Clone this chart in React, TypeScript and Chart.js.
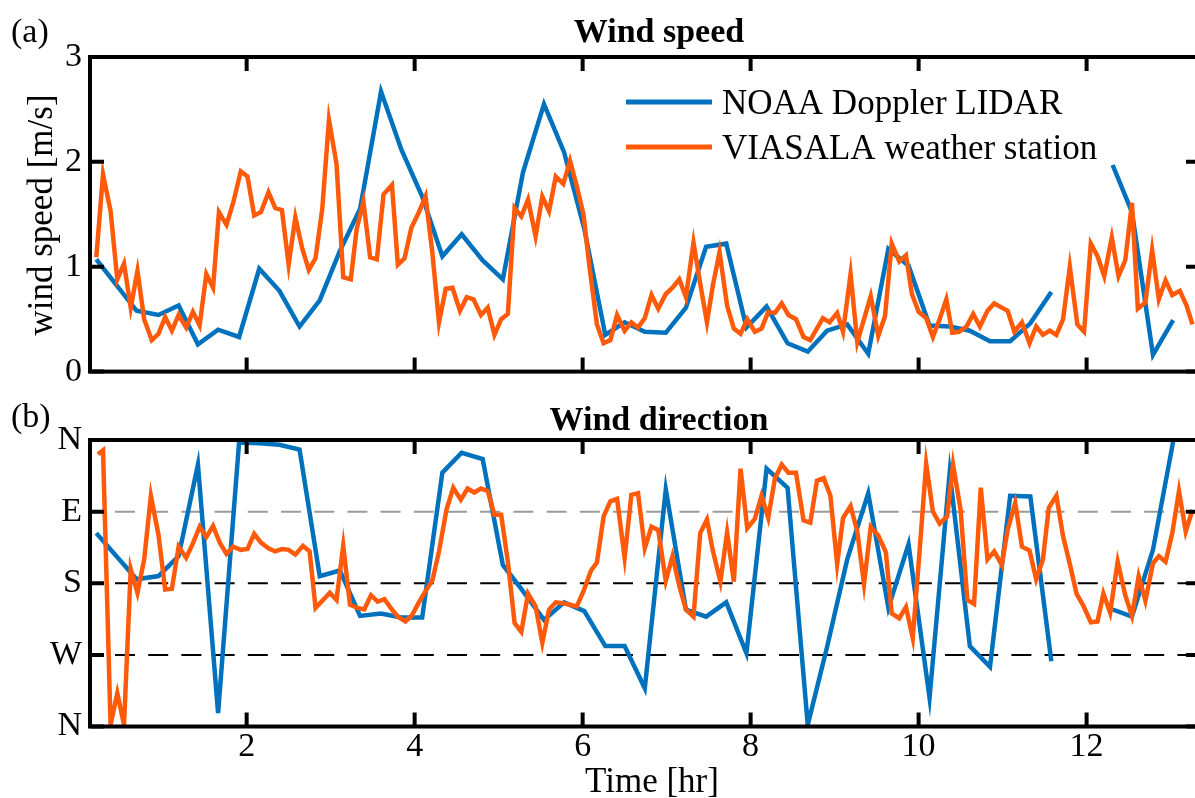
import React, { useEffect, useRef } from 'react';
import { Chart, registerables } from 'chart.js';

Chart.register(...registerables);

const SERIF = "'Liberation Serif', 'Times New Roman', serif";
const BLUE = '#0072BD';
const ORANGE = '#FF5A0A';

// ---------- axis ranges & tick labels ----------
const timeMin = 0.135;
const timeMax = 13.35;
const timeTicks = [2, 4, 6, 8, 10, 12];
const speedTicks = [0, 1, 2, 3];
const dirTickValues = [0, 90, 180, 270, 360];
const dirTickLabels = ['N', 'W', 'S', 'E', 'N'];
const dirRefLines = [90, 180, 270];
const seriesLabels = ['NOAA Doppler LIDAR', 'VIASALA weather station'];

// ---------- NOAA Doppler LIDAR (time in hr) ----------
const lidarTime = [0.21, 0.69, 0.95, 1.19, 1.42, 1.66, 1.91, 2.15, 2.39, 2.63, 2.87, 3.11, 3.35, 3.6, 3.84, 4.09, 4.33, 4.56, 4.81, 5.05, 5.29, 5.54, 5.78, 6.02, 6.27, 6.5, 6.74, 6.99, 7.23, 7.47, 7.71, 7.95, 8.19, 8.44, 8.68, 8.91, 9.15, 9.4, 9.64, 9.88, 10.13, 10.37, 10.61, 10.85, 11.09, 11.33, 11.58, 11.82, 12.31, 12.54, 12.79, 13.03];
const lidarSpeed = [1.07, 0.58, 0.54, 0.63, 0.26, 0.4, 0.33, 0.98, 0.77, 0.43, 0.68, 1.15, 1.55, 2.67, 2.12, 1.67, 1.1, 1.31, 1.06, 0.88, 1.9, 2.55, 2.09, 1.36, 0.35, 0.47, 0.38, 0.37, 0.61, 1.19, 1.22, 0.42, 0.62, 0.27, 0.19, 0.39, 0.45, 0.17, 1.17, 1.01, 0.44, 0.43, 0.39, 0.29, 0.29, 0.46, 0.76, null, 1.97, 1.52, 0.16, 0.49];
const lidarDir = [243, 185, 189, 214, 329, 17, 357, 356, 354, 348, 189, 196, 139, 142, 137, 137, 319, 344, 336, 203, 170, 134, 156, 145, 101, 101, 48, 298, 147, 138, 156, 92, 324, 300, 2, 100, 210, 293, 149, 229, 36, 319, 101, 75, 290, 289, 82, null, 147, 138, 222, 358];

// ---------- VIASALA weather station ----------
const stationSpeedTime = [0.21, 0.29, 0.38, 0.46, 0.54, 0.62, 0.7, 0.78, 0.87, 0.95, 1.03, 1.11, 1.19, 1.28, 1.36, 1.44, 1.52, 1.6, 1.67, 1.76, 1.84, 1.93, 2.01, 2.09, 2.17, 2.26, 2.34, 2.42, 2.5, 2.58, 2.66, 2.74, 2.82, 2.9, 2.98, 3.07, 3.15, 3.24, 3.31, 3.39, 3.47, 3.55, 3.63, 3.73, 3.8, 3.88, 3.96, 4.05, 4.13, 4.21, 4.29, 4.37, 4.45, 4.54, 4.62, 4.7, 4.79, 4.87, 4.95, 5.03, 5.11, 5.19, 5.27, 5.35, 5.44, 5.52, 5.6, 5.68, 5.77, 5.85, 5.93, 6.01, 6.08, 6.17, 6.25, 6.33, 6.41, 6.5, 6.58, 6.66, 6.74, 6.82, 6.9, 6.99, 7.07, 7.15, 7.23, 7.32, 7.4, 7.48, 7.55, 7.63, 7.72, 7.8, 7.88, 7.96, 8.05, 8.13, 8.21, 8.29, 8.37, 8.45, 8.54, 8.63, 8.71, 8.86, 8.94, 9.03, 9.1, 9.19, 9.27, 9.35, 9.43, 9.52, 9.6, 9.68, 9.77, 9.85, 9.92, 10.0, 10.09, 10.17, 10.25, 10.33, 10.4, 10.48, 10.57, 10.65, 10.73, 10.82, 10.9, 10.99, 11.06, 11.14, 11.23, 11.32, 11.4, 11.48, 11.56, 11.64, 11.72, 11.8, 11.89, 11.97, 12.05, 12.13, 12.21, 12.3, 12.38, 12.46, 12.54, 12.61, 12.7, 12.78, 12.86, 12.94, 13.02, 13.11, 13.19, 13.26];
const stationSpeed = [1.09, 1.88, 1.53, 0.88, 1.03, 0.61, 0.96, 0.5, 0.3, 0.36, 0.52, 0.39, 0.54, 0.42, 0.57, 0.44, 0.93, 0.8, 1.52, 1.4, 1.61, 1.91, 1.86, 1.49, 1.52, 1.71, 1.56, 1.54, 1.02, 1.47, 1.18, 0.97, 1.08, 1.55, 2.4, 1.98, 0.9, 0.88, 1.36, 1.62, 1.09, 1.07, 1.69, 1.78, 1.02, 1.08, 1.37, 1.52, 1.67, 1.14, 0.47, 0.79, 0.8, 0.58, 0.71, 0.69, 0.54, 0.61, 0.35, 0.5, 0.55, 1.56, 1.48, 1.64, 1.29, 1.67, 1.53, 1.86, 1.79, 2.01, 1.77, 1.5, 1.01, 0.45, 0.27, 0.3, 0.54, 0.39, 0.47, 0.42, 0.51, 0.73, 0.6, 0.74, 0.8, 0.88, 0.71, 1.23, 0.84, 0.47, 0.82, 1.14, 0.63, 0.41, 0.36, 0.5, 0.38, 0.41, 0.57, 0.56, 0.65, 0.54, 0.5, 0.33, 0.3, 0.51, 0.47, 0.56, 0.38, 0.93, 0.28, 0.5, 0.72, 0.34, 0.53, 1.22, 1.05, 1.11, 0.74, 0.57, 0.51, 0.33, 0.5, 0.69, 0.37, 0.38, 0.43, 0.55, 0.43, 0.58, 0.65, 0.61, 0.58, 0.38, 0.47, 0.27, 0.43, 0.35, 0.39, 0.35, 0.5, 1.0, 0.45, 0.38, 1.22, 1.1, 0.91, 1.28, 0.91, 1.06, 1.61, 0.6, 0.66, 1.16, 0.69, 0.87, 0.73, 0.77, 0.63, 0.45];
const stationDirTime = [0.23, 0.29, 0.38, 0.46, 0.54, 0.62, 0.7, 0.78, 0.86, 0.95, 1.03, 1.11, 1.19, 1.28, 1.36, 1.44, 1.52, 1.6, 1.68, 1.76, 1.84, 1.93, 2.01, 2.09, 2.17, 2.26, 2.34, 2.42, 2.5, 2.58, 2.67, 2.75, 2.82, 2.91, 2.99, 3.07, 3.15, 3.23, 3.32, 3.4, 3.48, 3.56, 3.64, 3.73, 3.8, 3.89, 3.97, 4.05, 4.14, 4.21, 4.29, 4.38, 4.46, 4.55, 4.63, 4.71, 4.79, 4.87, 4.95, 5.03, 5.11, 5.19, 5.27, 5.35, 5.44, 5.52, 5.6, 5.68, 5.76, 5.85, 5.93, 6.01, 6.1, 6.17, 6.25, 6.33, 6.41, 6.5, 6.58, 6.66, 6.74, 6.82, 6.9, 6.99, 7.07, 7.15, 7.23, 7.32, 7.4, 7.48, 7.55, 7.64, 7.72, 7.8, 7.88, 7.96, 8.05, 8.13, 8.21, 8.29, 8.37, 8.45, 8.54, 8.63, 8.71, 8.79, 8.87, 8.95, 9.03, 9.1, 9.19, 9.27, 9.35, 9.43, 9.52, 9.61, 9.68, 9.77, 9.85, 9.93, 10.01, 10.09, 10.17, 10.25, 10.34, 10.41, 10.5, 10.58, 10.66, 10.74, 10.82, 10.9, 10.99, 11.06, 11.15, 11.23, 11.32, 11.4, 11.48, 11.55, 11.64, 11.72, 11.8, 11.88, 11.96, 12.05, 12.13, 12.2, 12.28, 12.37, 12.46, 12.54, 12.62, 12.7, 12.79, 12.86, 12.94, 13.02, 13.1, 13.18, 13.26];
const stationDir = [342, 347, 2, 42, 2, 198, 168, 210, 290, 241, 172, 173, 226, 212, 230, 251, 238, 252, 231, 217, 226, 222, 223, 242, 231, 224, 220, 223, 222, 216, 227, 220, 149, 159, 168, 159, 227, 153, 149, 147, 165, 157, 160, 147, 138, 132, 140, 156, 172, 183, 220, 273, 300, 285, 299, 294, 299, 296, 266, 266, 207, 130, 119, 167, 151, 105, 147, 156, 155, 153, 151, 170, 196, 206, 264, 283, 286, 212, 291, 293, 224, 251, 247, 183, 214, 177, 147, 138, 243, 260, 221, 182, 244, 182, 324, 249, 261, 290, 262, 312, 329, 319, 319, 259, 256, 309, 312, 290, 204, 262, 277, 245, 179, 251, 240, 219, 142, 136, 150, 111, 218, 330, 270, 255, 264, 329, 272, 159, 154, 300, 210, 220, 203, 247, 281, 226, 221, 185, 210, 275, 290, 239, 204, 167, 152, 131, 132, 167, 143, 207, 165, 139, 189, 158, 205, 214, 207, 243, 296, 245, 272];

const toPoints = (xs: number[], ys: (number | null)[]) => xs.map((x, i) => ({ x, y: ys[i] }));

const CANVAS_W = 1210;

function makePanelPlugin(panel: 'speed' | 'dir') {
  return {
    id: 'panelDecor_' + panel,
    beforeDatasetsDraw(chart: any) {
      if (panel !== 'dir') return;
      const { ctx, chartArea } = chart;
      const ys = chart.scales.y;
      ctx.save();
      ctx.lineWidth = 2;
      ctx.setLineDash([20, 13.2]);
      ctx.lineDashOffset = 8.2;
      dirRefLines.forEach((v) => {
        const py = ys.getPixelForValue(v);
        ctx.strokeStyle = v === 270 ? '#9a9a9a' : '#000000';
        ctx.beginPath();
        ctx.moveTo(chartArea.left, py);
        ctx.lineTo(chartArea.right, py);
        ctx.stroke();
      });
      ctx.restore();
    },
    afterDatasetsDraw(chart: any) {
      const { ctx, chartArea } = chart;
      const xs = chart.scales.x;
      const ys = chart.scales.y;
      const tl = 14;
      ctx.save();
      ctx.strokeStyle = '#000';
      ctx.lineWidth = 4;
      ctx.setLineDash([]);
      ctx.strokeRect(chartArea.left, chartArea.top, chartArea.right - chartArea.left, chartArea.bottom - chartArea.top);
      ctx.beginPath();
      timeTicks.forEach((v) => {
        const px = xs.getPixelForValue(v);
        ctx.moveTo(px, chartArea.bottom);
        ctx.lineTo(px, chartArea.bottom - tl);
        ctx.moveTo(px, chartArea.top);
        ctx.lineTo(px, chartArea.top + tl);
      });
      const yv = panel === 'speed' ? speedTicks : dirTickValues;
      yv.forEach((v) => {
        const py = ys.getPixelForValue(v);
        ctx.moveTo(chartArea.left, py);
        ctx.lineTo(chartArea.left + tl, py);
        ctx.moveTo(chartArea.right, py);
        ctx.lineTo(chartArea.right - tl, py);
      });
      ctx.stroke();
      ctx.restore();
    },
    afterDraw(chart: any) {
      const { ctx } = chart;
      ctx.save();
      ctx.fillStyle = '#000';
      ctx.textAlign = 'left';
      ctx.textBaseline = 'alphabetic';
      ctx.font = `34px ${SERIF}`;
      if (panel === 'speed') {
        ctx.fillText('(a)', 11, 42);
        ctx.font = `bold 34px ${SERIF}`;
        ctx.textAlign = 'center';
        ctx.fillText('Wind speed', 659, 42);
        // y axis title
        ctx.save();
        ctx.translate(52, 215);
        ctx.rotate(-Math.PI / 2);
        ctx.font = `35px ${SERIF}`;
        ctx.fillText('wind speed [m/s]', 0, 0);
        ctx.restore();
        // legend
        ctx.textAlign = 'left';
        ctx.font = `35px ${SERIF}`;
        const rows = [
          { y: 102, base: 114 },
          { y: 147, base: 159 },
        ];
        chart.data.datasets.forEach((ds: any, i: number) => {
          const r = rows[i];
          ctx.strokeStyle = ds.borderColor;
          ctx.lineWidth = 5;
          ctx.beginPath();
          ctx.moveTo(626, r.y);
          ctx.lineTo(712, r.y);
          ctx.stroke();
          ctx.fillText(ds.label, 722, r.base);
        });
      } else {
        ctx.fillText('(b)', 11, 27);
        ctx.font = `bold 34px ${SERIF}`;
        ctx.textAlign = 'center';
        ctx.fillText('Wind direction', 659, 30);
        ctx.font = `35px ${SERIF}`;
        ctx.fillText('Time [hr]', 652, 392);
      }
      ctx.restore();
    },
  };
}

function buildConfig(panel: 'speed' | 'dir'): any {
  const isSpeed = panel === 'speed';
  const padTop = isSpeed ? 57 : 40;
  const xHeight = isSpeed ? 27 : 71.5;
  const tickFont = { family: SERIF, size: 34 };
  return {
    type: 'line',
    data: {
      datasets: [
        {
          label: seriesLabels[0],
          data: toPoints(lidarTime, isSpeed ? lidarSpeed : lidarDir),
          borderColor: BLUE,
          backgroundColor: BLUE,
          borderWidth: 4.5,
          pointRadius: 0,
          tension: 0,
          spanGaps: false,
          order: 1,
        },
        {
          label: seriesLabels[1],
          data: isSpeed ? toPoints(stationSpeedTime, stationSpeed) : toPoints(stationDirTime, stationDir),
          borderColor: ORANGE,
          backgroundColor: ORANGE,
          borderWidth: 4.5,
          pointRadius: 0,
          tension: 0,
          spanGaps: false,
          order: 0,
        },
      ],
    },
    options: {
      responsive: false,
      maintainAspectRatio: false,
      animation: false,
      devicePixelRatio: 1,
      events: [],
      layout: { padding: { top: padTop, right: 10, left: 0, bottom: 0 } },
      plugins: {
        legend: { display: false },
        tooltip: { enabled: false },
        title: { display: false },
      },
      scales: {
        x: {
          type: 'linear',
          min: timeMin,
          max: timeMax,
          afterBuildTicks: (s: any) => {
            s.ticks = timeTicks.map((v) => ({ value: v }));
          },
          afterFit: (s: any) => {
            s.height = xHeight;
          },
          grid: { display: false, drawTicks: false },
          border: { display: false },
          ticks: {
            display: !isSpeed,
            autoSkip: false,
            maxRotation: 0,
            padding: 0,
            color: '#000',
            font: tickFont,
            callback: (v: any) => String(v),
          },
        },
        y: {
          type: 'linear',
          min: 0,
          max: isSpeed ? 3 : 360,
          afterBuildTicks: (s: any) => {
            s.ticks = (isSpeed ? speedTicks : dirTickValues).map((v) => ({ value: v }));
          },
          afterFit: (s: any) => {
            s.width = 90;
          },
          grid: { display: false, drawTicks: false },
          border: { display: false },
          ticks: {
            autoSkip: false,
            padding: 8,
            color: '#000',
            font: tickFont,
            callback: (v: any) => {
              if (isSpeed) return String(v);
              const idx = dirTickValues.indexOf(Number(v));
              return idx >= 0 ? dirTickLabels[idx] : '';
            },
          },
        },
      },
    },
    plugins: [makePanelPlugin(panel)],
  };
}

function Panel({ panel, top, height }: { panel: 'speed' | 'dir'; top: number; height: number }) {
  const ref = useRef<HTMLCanvasElement>(null);
  useEffect(() => {
    if (!ref.current) return;
    const chart = new Chart(ref.current, buildConfig(panel));
    return () => chart.destroy();
  }, [panel]);
  return (
    <canvas
      ref={ref}
      width={CANVAS_W}
      height={height}
      style={{ position: 'absolute', left: 0, top, width: CANVAS_W, height, display: 'block' }}
    />
  );
}

export default function App() {
  return (
    <div
      style={{
        position: 'absolute',
        left: 0,
        top: 0,
        width: 1195,
        height: 798,
        overflow: 'hidden',
        background: '#ffffff',
      }}
    >
      <Panel panel="speed" top={0} height={400} />
      <Panel panel="dir" top={400} height={398} />
    </div>
  );
}
